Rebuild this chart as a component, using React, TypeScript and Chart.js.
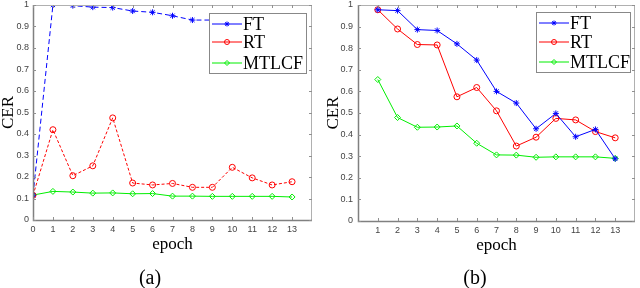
import React, { useEffect, useRef } from "react";
import { Chart, registerables } from "chart.js";
Chart.register(...registerables);

// ---------- data ----------
const seriesNames = ["FT", "RT", "MTLCF"];
const epochsA = [0, 1, 2, 3, 4, 5, 6, 7, 8, 9, 10, 11, 12, 13];
const ftA = [0.115, 1.0, 0.997, 0.99, 0.988, 0.972, 0.966, 0.95, 0.93, 0.93, 0.93, 0.93, 0.93, 0.93];
const rtA = [0.115, 0.42, 0.206, 0.252, 0.475, 0.172, 0.163, 0.17, 0.152, 0.152, 0.245, 0.196, 0.163, 0.178];
const mtA = [0.116, 0.133, 0.13, 0.125, 0.126, 0.122, 0.123, 0.111, 0.111, 0.11, 0.11, 0.11, 0.11, 0.107];

const epochsB = [1, 2, 3, 4, 5, 6, 7, 8, 9, 10, 11, 12, 13];
const ftB = [0.978, 0.974, 0.886, 0.882, 0.82, 0.745, 0.6, 0.546, 0.427, 0.498, 0.39, 0.424, 0.288];
const rtB = [0.978, 0.889, 0.817, 0.815, 0.575, 0.618, 0.51, 0.347, 0.388, 0.475, 0.468, 0.414, 0.385];
const mtB = [0.655, 0.479, 0.434, 0.435, 0.44, 0.36, 0.306, 0.305, 0.295, 0.297, 0.297, 0.297, 0.29];

const xTicksA = [0, 1, 2, 3, 4, 5, 6, 7, 8, 9, 10, 11, 12, 13];
const xTicksB = [1, 2, 3, 4, 5, 6, 7, 8, 9, 10, 11, 12, 13];
const yTicks = [0, 0.1, 0.2, 0.3, 0.4, 0.5, 0.6, 0.7, 0.8, 0.9, 1];
const xTitle = "epoch";
const yTitle = "CER";

const colors = ["#0000ff", "#ff0000", "#00ee00"];
const markers = ["star", "circle", "rectRot"];

const SERIF = "'Liberation Serif', 'Times New Roman', serif";
const SANS = "'Liberation Sans', Arial, sans-serif";

function drawMarker(ctx, style, x, y, r, color) {
  ctx.save();
  ctx.strokeStyle = color;
  ctx.lineWidth = 1;
  ctx.setLineDash([]);
  ctx.beginPath();
  if (style === "star") {
    ctx.moveTo(x - r, y); ctx.lineTo(x + r, y);
    ctx.moveTo(x, y - r); ctx.lineTo(x, y + r);
    const d = r * 0.707;
    ctx.moveTo(x - d, y - d); ctx.lineTo(x + d, y + d);
    ctx.moveTo(x - d, y + d); ctx.lineTo(x + d, y - d);
  } else if (style === "circle") {
    ctx.arc(x, y, r, 0, Math.PI * 2);
  } else {
    ctx.moveTo(x, y - r); ctx.lineTo(x + r, y); ctx.lineTo(x, y + r); ctx.lineTo(x - r, y); ctx.closePath();
  }
  ctx.stroke();
  ctx.restore();
}

function makeFramePlugin(xTicks, legendBox) {
  return {
    id: "frameAndLegend",
    afterDraw(chart) {
      const { ctx, chartArea: a, scales } = chart;
      ctx.save();
      // frame
      ctx.lineWidth = 1;
      ctx.strokeStyle = "#b0b0b0";
      ctx.beginPath();
      ctx.moveTo(a.left, a.top + 0.5); ctx.lineTo(a.right, a.top + 0.5);
      ctx.moveTo(a.right - 0.5, a.top); ctx.lineTo(a.right - 0.5, a.bottom);
      ctx.stroke();
      ctx.strokeStyle = "#808080";
      ctx.lineWidth = 1.5;
      ctx.beginPath();
      ctx.moveTo(a.left + 0.5, a.top); ctx.lineTo(a.left + 0.5, a.bottom + 0.5);
      ctx.lineTo(a.right, a.bottom + 0.5);
      ctx.stroke();
      // inner ticks
      ctx.lineWidth = 1;
      ctx.strokeStyle = "#909090";
      ctx.beginPath();
      xTicks.forEach((t) => {
        const px = Math.round(scales.x.getPixelForValue(t)) + 0.5;
        ctx.moveTo(px, a.bottom); ctx.lineTo(px, a.bottom - 3);
        ctx.moveTo(px, a.top); ctx.lineTo(px, a.top + 3);
      });
      yTicks.forEach((t) => {
        const py = Math.round(scales.y.getPixelForValue(t)) + 0.5;
        ctx.moveTo(a.left, py); ctx.lineTo(a.left + 3, py);
        ctx.moveTo(a.right, py); ctx.lineTo(a.right - 3, py);
      });
      ctx.stroke();
      // legend
      const lb = legendBox;
      ctx.fillStyle = "#fff";
      ctx.fillRect(lb.x, lb.y, lb.w, lb.h);
      ctx.strokeStyle = "#888";
      ctx.lineWidth = 1;
      ctx.strokeRect(lb.x + 0.5, lb.y + 0.5, lb.w, lb.h);
      chart.data.datasets.forEach((ds, i) => {
        const cy = lb.y + lb.rows[i];
        ctx.strokeStyle = ds.borderColor;
        ctx.lineWidth = 1;
        ctx.setLineDash([]);
        ctx.beginPath();
        ctx.moveTo(lb.x + 3, cy); ctx.lineTo(lb.x + lb.lineW, cy);
        ctx.stroke();
        drawMarker(ctx, ds.pointStyle, lb.x + 3 + (lb.lineW - 3) / 2, cy, 2.5, ds.borderColor);
        ctx.fillStyle = "#000";
        ctx.font = `18px ${SERIF}`;
        ctx.textBaseline = "middle";
        ctx.textAlign = "left";
        ctx.fillText(ds.label, lb.x + lb.lineW + 1, cy + 1);
      });
      ctx.restore();
    },
  };
}

function buildConfig(epochs, series, dashes, xTicks, opt) {
  const datasets = series.map((vals, i) => ({
    label: seriesNames[i],
    data: epochs.map((e, j) => ({ x: e, y: vals[j] })),
    borderColor: colors[i],
    backgroundColor: colors[i],
    borderWidth: 1,
    borderDash: dashes[i],
    pointStyle: markers[i],
    pointRadius: 3,
    pointBorderWidth: 1,
    pointBorderColor: colors[i],
    pointBackgroundColor: "rgba(0,0,0,0)",
    tension: 0,
  }));
  const tickFont = { family: SANS, size: 9 };
  return {
    type: "line",
    data: { datasets },
    plugins: [makeFramePlugin(xTicks, opt.legend)],
    options: {
      animation: false,
      responsive: false,
      maintainAspectRatio: false,
      layout: { padding: { left: 0, top: 4, right: opt.padRight, bottom: 0 } },
      plugins: { legend: { display: false }, tooltip: { enabled: false } },
      scales: {
        x: {
          type: "linear",
          min: 0,
          max: 14,
          afterBuildTicks: (s) => { s.ticks = xTicks.map((v) => ({ value: v })); },
          ticks: {
            autoSkip: false,
            maxRotation: 0,
            padding: 4,
            color: "#444",
            font: tickFont,
            callback: (v) => String(v),
          },
          grid: { display: false, drawTicks: false },
          border: { display: false },
          title: {
            display: true,
            text: xTitle,
            color: "#000",
            font: { family: SERIF, size: 17, lineHeight: 1 },
            padding: { top: 0, bottom: opt.xTitlePad },
          },
          afterFit: (s) => { s.height = opt.xHeight; s.paddingLeft = 0; s.paddingRight = 0; },
        },
        y: {
          min: 0,
          max: 1,
          afterBuildTicks: (s) => { s.ticks = yTicks.map((v) => ({ value: v })); },
          ticks: {
            padding: opt.yPad,
            color: "#444",
            font: tickFont,
            callback: (v) => String(Math.round(v * 10) / 10),
          },
          grid: { display: false, drawTicks: false },
          border: { display: false },
          title: {
            display: true,
            text: yTitle,
            color: "#000",
            font: { family: SERIF, size: 17, lineHeight: 1 },
            padding: { top: opt.yTitlePad, bottom: 0 },
          },
          afterFit: (s) => { s.width = opt.yWidth; s.paddingTop = 0; s.paddingBottom = 0; },
        },
      },
    },
  };
}

function ChartBox({ config, left }) {
  const ref = useRef(null);
  useEffect(() => {
    const chart = new Chart(ref.current, config);
    return () => chart.destroy();
  }, []);
  return (
    <div style={{ position: "absolute", left, top: 0, width: 320, height: 288 }}>
      <canvas ref={ref} width={320} height={288} style={{ display: "block", width: 320, height: 288 }} />
    </div>
  );
}

const configA = buildConfig(epochsA, [ftA, rtA, mtA], [[5, 3], [3, 2], []], xTicksA, {
  padRight: 8,
  xHeight: 68,
  xTitlePad: 34.5,
  yWidth: 33,
  yPad: 4,
  yTitlePad: 0,
  legend: { x: 209, y: 13, w: 97, h: 60, rows: [11, 29, 50], lineW: 33 },
});

const configB = buildConfig(epochsB, [ftB, rtB, mtB], [[], [], []], xTicksB, {
  padRight: 1,
  xHeight: 67,
  xTitlePad: 33.5,
  yWidth: 38,
  yPad: 5,
  yTitlePad: 5.5,
  legend: { x: 216, y: 12, w: 94, h: 60, rows: [11, 30, 50], lineW: 33 },
});

const captionStyle = {
  position: "absolute",
  top: 266,
  width: 60,
  textAlign: "center",
  fontFamily: SERIF,
  fontSize: 20,
  lineHeight: "22px",
  color: "#000",
} as React.CSSProperties;

export default function App() {
  return (
    <div style={{ position: "absolute", left: 0, top: 0, width: 640, height: 288, background: "#fff", overflow: "hidden" }}>
      <ChartBox config={configA} left={0} />
      <ChartBox config={configB} left={320} />
      <div style={{ ...captionStyle, left: 120 }}>(a)</div>
      <div style={{ ...captionStyle, left: 445 }}>(b)</div>
    </div>
  );
}
